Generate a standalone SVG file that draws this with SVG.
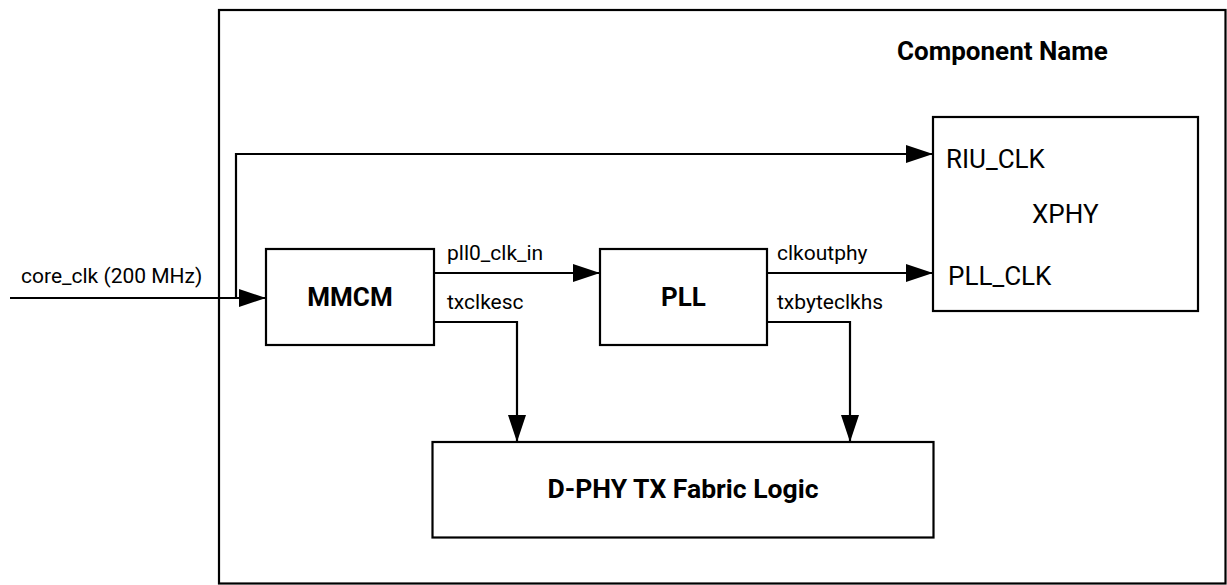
<svg xmlns="http://www.w3.org/2000/svg" width="1227" height="585" viewBox="0 0 1227 585">
  <defs>
    <marker id="arr" markerUnits="userSpaceOnUse" markerWidth="27" markerHeight="18" refX="27" refY="9" orient="auto">
      <path d="M0,0 L27,9 L0,18 z" fill="#000"/>
    </marker>
    <style>
      .box { fill: #fff; stroke: #000; stroke-width: 2.2; }
      .wire { fill: none; stroke: #000; stroke-width: 2.2; }
      .lbl { font-family: Roboto, "Liberation Sans", sans-serif; font-size: 21px; fill: #000; }
      .big { font-family: Roboto, "Liberation Sans", sans-serif; font-size: 26px; fill: #000; }
      .bold { font-family: Roboto, "Liberation Sans", sans-serif; font-size: 26px; font-weight: bold; fill: #000; }
    </style>
  </defs>
  <rect width="1227" height="585" fill="#fff"/>

  <g id="component">
    <rect class="box" x="219" y="10" width="1006.5" height="573.5"/>
    <text class="bold" x="897" y="60" font-size="26.5">Component Name</text>
  </g>

  <g id="mmcm">
    <rect class="box" x="266" y="249" width="168" height="96"/>
    <text class="bold" x="350" y="306" text-anchor="middle">MMCM</text>
  </g>

  <g id="pll">
    <rect class="box" x="600" y="249" width="167" height="96"/>
    <text class="bold" x="683.5" y="306" text-anchor="middle">PLL</text>
  </g>

  <g id="xphy">
    <rect class="box" x="933" y="117" width="265" height="194"/>
    <text class="big" x="946" y="167.5">RIU_CLK</text>
    <text class="big" x="1032" y="223">XPHY</text>
    <text class="big" x="948" y="285">PLL_CLK</text>
  </g>

  <g id="dphy">
    <rect class="box" x="432.5" y="442" width="501" height="95.5"/>
    <text class="bold" x="683" y="498" text-anchor="middle" font-size="24" textLength="271" lengthAdjust="spacingAndGlyphs">D-PHY TX Fabric Logic</text>
  </g>

  <g id="connectors">
    <path class="wire" d="M10,298 H266" marker-end="url(#arr)"/>
    <path class="wire" d="M236,298 V154 H933" marker-end="url(#arr)"/>
    <path class="wire" d="M434,273 H600" marker-end="url(#arr)"/>
    <path class="wire" d="M767,273 H933" marker-end="url(#arr)"/>
    <path class="wire" d="M434,322 H517 V442" marker-end="url(#arr)"/>
    <path class="wire" d="M767,322 H850 V442" marker-end="url(#arr)"/>
    <text class="lbl" x="21" y="283">core_clk (200 MHz)</text>
    <text class="lbl" x="447" y="260">pll0_clk_in</text>
    <text class="lbl" x="447" y="309">txclkesc</text>
    <text class="lbl" x="777" y="260">clkoutphy</text>
    <text class="lbl" x="777" y="309">txbyteclkhs</text>
  </g>
</svg>
